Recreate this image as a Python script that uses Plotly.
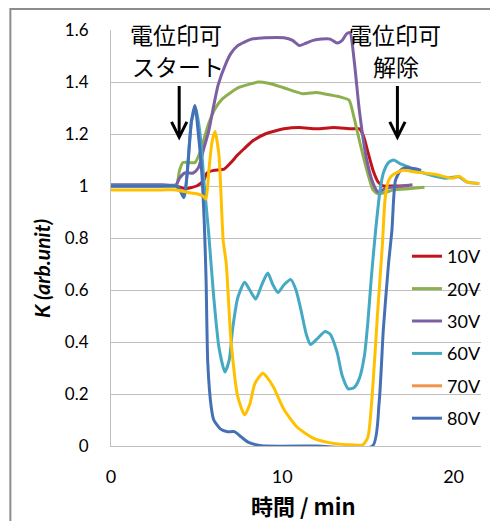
import plotly.graph_objects as go

# ---- data (time in min, K in arb. unit) ----
t_10V = [0, 1, 2, 3, 3.8, 4.3, 5.0, 5.4, 5.6, 6.0, 6.6, 7.0, 7.4, 7.8, 8.3, 9.0, 9.5, 10.1, 11.0, 12.0, 13.0, 14.0, 14.5, 14.75, 15.0, 15.3, 15.6, 15.9, 16.5, 17.4]
k_10V = [1.0, 1.0, 1.0, 1.0, 1.0, 0.99, 1.0, 1.02, 1.05, 1.06, 1.065, 1.09, 1.12, 1.145, 1.175, 1.20, 1.21, 1.22, 1.225, 1.22, 1.225, 1.22, 1.22, 1.19, 1.13, 1.06, 1.015, 1.0, 1.0, 1.0]

t_20V = [0, 1, 2, 3, 3.8, 4.0, 4.2, 4.6, 4.9, 5.2, 5.7, 6.1, 6.5, 7.0, 7.5, 8.0, 8.6, 9.2, 10.0, 11.2, 12.0, 12.8, 13.5, 13.9, 14.2, 14.5, 14.9, 15.3, 15.6, 16.0, 16.5, 17.5, 18.3]
k_20V = [1.0, 1.0, 1.0, 1.0, 1.0, 1.06, 1.09, 1.09, 1.09, 1.13, 1.24, 1.30, 1.335, 1.36, 1.38, 1.39, 1.40, 1.395, 1.38, 1.355, 1.36, 1.35, 1.34, 1.33, 1.26, 1.175, 1.07, 0.985, 0.97, 0.975, 0.985, 0.99, 0.995]

t_30V = [0, 1, 2, 3, 3.8, 4.0, 4.3, 4.8, 5.1, 5.4, 5.7, 6.0, 6.26, 6.7, 7.0, 7.4, 8.2, 9.0, 10.1, 10.6, 11.0, 11.4, 11.8, 12.3, 12.8, 13.2, 13.5, 13.75, 13.95, 14.2, 14.5, 14.9, 15.3, 15.6, 16.0, 17.0, 17.6]
k_30V = [1.005, 1.005, 1.005, 1.005, 1.005, 1.03, 1.05, 1.05, 1.07, 1.14, 1.21, 1.31, 1.39, 1.47, 1.51, 1.54, 1.565, 1.57, 1.57, 1.56, 1.54, 1.55, 1.56, 1.565, 1.565, 1.55, 1.56, 1.585, 1.59, 1.48, 1.29, 1.11, 1.01, 0.976, 0.99, 1.0, 1.005]

t_60V = [0, 1, 2, 3, 3.8, 4.1, 4.3, 4.5, 4.7, 4.95, 5.2, 5.45, 5.7, 6.0, 6.3, 6.65, 6.9, 7.1, 7.4, 7.8, 8.1, 8.45, 8.8, 9.15, 9.45, 9.75, 10.1, 10.5, 10.8, 11.1, 11.4, 11.65, 12.0, 12.5, 12.8, 13.2, 13.5, 13.85, 14.2, 14.5, 14.8, 15.0, 15.2, 15.45, 15.7, 15.9, 16.2, 16.5, 16.9, 17.3, 17.8, 18.5, 19.5, 20.3, 20.8, 21.5]
k_60V = [1.0, 1.0, 1.0, 1.0, 1.0, 0.98, 0.96, 1.1, 1.25, 1.30, 1.2, 1.0, 0.82, 0.57, 0.38, 0.285, 0.33, 0.45, 0.57, 0.63, 0.60, 0.565, 0.62, 0.665, 0.62, 0.59, 0.62, 0.64, 0.60, 0.52, 0.43, 0.39, 0.41, 0.44, 0.43, 0.36, 0.27, 0.22, 0.225, 0.26, 0.35, 0.48, 0.65, 0.83, 0.98, 1.05, 1.09, 1.10, 1.085, 1.075, 1.06, 1.045, 1.03, 1.035, 1.015, 1.01]

t_70V = [0, 1, 2, 3, 3.8, 4.5, 5.0, 5.4, 5.55, 5.7, 5.9, 6.07, 6.3, 6.55, 6.73, 7.0, 7.4, 7.8, 8.1, 8.4, 8.86, 9.1, 9.5, 10.1, 10.86, 11.8, 12.8, 13.8, 14.7, 15.0, 15.27, 15.56, 15.84, 16.0, 16.2, 16.4, 17.0, 17.75, 18.9, 19.9, 20.35, 20.8, 21.5]
k_70V = [0.985, 0.985, 0.985, 0.985, 0.985, 0.975, 0.97, 0.96, 0.95, 1.05, 1.17, 1.21, 1.12, 0.79, 0.70, 0.41, 0.19, 0.12, 0.16, 0.24, 0.28, 0.265, 0.225, 0.14, 0.073, 0.03, 0.012, 0.005, 0.005, 0.035, 0.215, 0.51, 0.77, 0.95, 1.02, 1.04, 1.06, 1.054, 1.045, 1.03, 1.037, 1.015, 1.01]

t_80V = [0, 1, 2, 3, 3.8, 4.05, 4.25, 4.45, 4.7, 4.9, 5.1, 5.3, 5.45, 5.55, 5.65, 5.85, 6.0, 6.4, 6.8, 7.2, 7.6, 8.0, 8.6, 9.0, 12.0, 15.27, 15.65, 15.9, 16.2, 16.4, 16.6, 16.9, 17.2, 17.9, 18.1]
k_80V = [1.0, 1.0, 1.0, 1.0, 1.0, 0.98, 0.955, 1.05, 1.25, 1.31, 1.2, 1.05, 0.85, 0.64, 0.32, 0.15, 0.10, 0.065, 0.055, 0.055, 0.035, 0.015, 0.003, 0.0, 0.0, 0.0, 0.165, 0.45, 0.70, 0.83, 1.02, 1.06, 1.07, 1.065, 1.06]

x_ticks = [0, 10, 20]
y_ticks = [0, 0.2, 0.4, 0.6, 0.8, 1.0, 1.2, 1.4, 1.6]
y_ticktext = ["0", "0.2", "0.4", "0.6", "0.8", "1", "1.2", "1.4", "1.6"]

series = [
    ("10V", t_10V, k_10V, "#C0141C", 1),
    ("20V", t_20V, k_20V, "#8DB04E", 2),
    ("30V", t_30V, k_30V, "#7D5FA3", 3),
    ("60V", t_60V, k_60V, "#45A9C3", 4),
    ("80V", t_80V, k_80V, "#4570B6", 6),
]

FONT = "Lato, 'Noto Sans CJK JP', sans-serif"
JP = "'Noto Sans CJK JP', sans-serif"

fig = go.Figure()
for name, tx, ky, col, rank in series:
    fig.add_trace(go.Scatter(x=tx, y=ky, mode="lines", name=name,
                             line=dict(color=col, width=3, shape="spline", smoothing=0.6),
                             legendrank=rank, legendgroup=name))
# 70V curve (drawn in yellow) and its legend entry (orange, as in the original)
fig.add_trace(go.Scatter(x=t_70V, y=k_70V, mode="lines", name="70V", showlegend=False,
                         legendgroup="70Vdata",
                         line=dict(color="#FFC000", width=3, shape="spline", smoothing=0.6)))
fig.add_trace(go.Scatter(x=[None], y=[None], mode="lines", name="70V",
                         line=dict(color="#F0954A", width=3), legendrank=5, legendgroup="70V"))

PW, PH = 375, 416  # plot area size in px
fig.update_layout(
    width=482, height=513,
    margin=dict(l=103, r=4, t=22, b=75),
    paper_bgcolor="white", plot_bgcolor="white",
    font=dict(family=FONT, color="#000000"),
    showlegend=True,
    legend=dict(x=0.80, y=0.50, xanchor="left", yanchor="top",
                font=dict(size=18, family=FONT), bgcolor="rgba(0,0,0,0)",
                itemwidth=30, tracegroupgap=6, traceorder="grouped"),
    xaxis=dict(range=[0, 21.6], tickvals=x_ticks, showgrid=False, zeroline=False,
               showline=True, linecolor="#BFBFBF", linewidth=1,
               ticks="", tickfont=dict(size=18), ticklabelstandoff=14),
    yaxis=dict(range=[0, 1.6], tickvals=y_ticks, ticktext=y_ticktext, showgrid=True,
               gridcolor="#BFBFBF", gridwidth=1, zeroline=False,
               showline=True, linecolor="#BFBFBF", linewidth=1,
               ticks="", tickfont=dict(size=17), ticklabelstandoff=18),
)

# outer chart border (top & left visible)
fig.add_shape(type="rect", xref="paper", yref="paper",
              x0=(1 - 103) / PW, x1=1.2, y0=-0.5, y1=1 + (22 - 1) / PH,
              line=dict(color="#8C8C8C", width=2), layer="below")

# axis titles
fig.add_annotation(text="<b>時間 / min</b>", xref="paper", yref="paper",
                   x=(306 - 111) / PW, y=1 - (505 - 30) / PH, showarrow=False,
                   font=dict(size=22, family=JP), xanchor="center", yanchor="middle")
fig.add_annotation(text="<b><i>K (arb.unit)</i></b>", xref="paper", yref="paper",
                   x=(40 - 111) / PW, y=1 - (268 - 30) / PH, showarrow=False, textangle=-90,
                   font=dict(size=21, family=FONT), xanchor="center", yanchor="middle")

# text labels
for txt, xv, yv in [("電位印可", 3.8, 1.585), ("スタート", 3.9, 1.46),
                    ("電位印可", 16.6, 1.585), ("解除", 16.65, 1.46)]:
    fig.add_annotation(text=txt, x=xv, y=yv, xref="x", yref="y", showarrow=False,
                       font=dict(size=23, family=JP), xanchor="center", yanchor="middle")

# arrows
for xv in [3.98, 16.72]:
    fig.add_annotation(x=xv, y=1.175, ax=xv, ay=1.39, xref="x", yref="y", axref="x", ayref="y",
                       text="", showarrow=True, arrowhead=5, arrowsize=1.0, arrowwidth=3,
                       arrowcolor="#000000")

fig.write_html("out.html")
